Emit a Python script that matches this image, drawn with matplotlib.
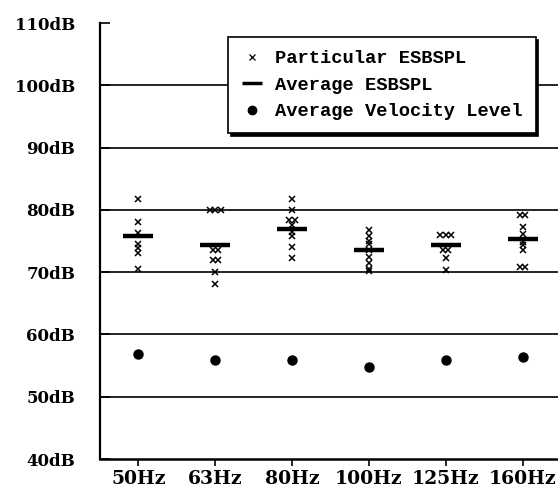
import matplotlib
matplotlib.use("Agg")
import matplotlib.pyplot as plt
from matplotlib.lines import Line2D
import numpy as np

categories = ["50Hz", "63Hz", "80Hz", "100Hz", "125Hz", "160Hz"]
particular = [
    [81.7, 78.0, 76.3, 74.5, 73.8, 73.0, 70.5],
    [80.0, 80.0, 80.0, 73.6, 73.6, 71.9, 71.9, 70.1, 68.1],
    [81.8, 80.0, 78.3, 78.3, 77.6, 76.5, 75.8, 74.0, 72.2],
    [76.8, 75.8, 75.0, 74.5, 73.5, 72.5, 71.5, 70.5, 70.2],
    [76.0, 76.0, 76.0, 73.6, 73.6, 72.3, 70.4],
    [79.1, 79.1, 77.2, 76.1, 74.8, 74.3, 73.5, 70.8, 70.8],
]
average_esbspl = [75.8, 74.4, 77.0, 73.5, 74.4, 75.3]
average_velocity = [56.9, 55.9, 55.9, 54.8, 55.9, 56.3]
yticks = [40, 50, 60, 70, 80, 90, 100, 110]
ytick_labels = ["40dB", "50dB", "60dB", "70dB", "80dB", "90dB", "100dB", "110dB"]

W, H = 558, 490
fig = plt.figure(figsize=(W / 100, H / 100), dpi=100)
ax = fig.add_axes([100 / W, (H - 459) / H, 461 / W, 436 / H])

serif = "DejaVu Serif"

# gridlines
for v in yticks[1:-1]:
    ax.axhline(v, color="black", lw=1.2, zorder=1)

# particular values with side-by-side spread for duplicates
spread = 0.07
for i, vals in enumerate(particular):
    xs, ys = [], []
    uniq = {}
    for v in vals:
        uniq.setdefault(v, 0)
        uniq[v] += 1
    for v, n in uniq.items():
        offs = (np.arange(n) - (n - 1) / 2) * spread
        for o in offs:
            xs.append(i + o)
            ys.append(v)
    ax.plot(xs, ys, ls="none", marker="x", ms=5, mew=1.1, color="black", zorder=3)

x = np.arange(len(categories))
ax.plot(x, average_esbspl, ls="none", marker="_", ms=22, mew=3.2, color="black", zorder=4)
ax.plot(x, average_velocity, ls="none", marker="o", ms=6.5, color="black", zorder=4)

ax.set_xlim(-0.5, len(categories) - 0.5)
ax.set_ylim(40, 110)
ax.set_yticks(yticks)
ax.set_yticklabels(ytick_labels, fontfamily=serif, fontweight="bold", fontsize=12)
ax.set_xticks(x)
ax.set_xticklabels(categories, fontfamily=serif, fontweight="bold", fontsize=13.5)
ax.tick_params(axis="y", direction="in", length=7, width=1.2, pad=18)
ax.tick_params(axis="x", direction="out", length=5, width=1.2, pad=3)

for s in ["top", "right"]:
    ax.spines[s].set_visible(False)
ax.spines["left"].set_linewidth(1.6)
ax.spines["bottom"].set_linewidth(1.8)

handles = [
    Line2D([], [], ls="none", marker="x", ms=4, mew=0.9, color="black"),
    Line2D([], [], ls="none", marker="_", ms=14, mew=2.5, color="black"),
    Line2D([], [], ls="none", marker="o", ms=6, color="black"),
]
labels = ["Particular ESBSPL", "Average ESBSPL", "Average Velocity Level"]
leg = fig.legend(handles, labels, loc="upper left",
                 bbox_to_anchor=(228 / W, 1 - 37 / H), borderaxespad=0,
                 prop={"family": "Liberation Mono", "size": 13.5, "weight": "bold"},
                 frameon=True, fancybox=False, shadow={"color": "black", "alpha": 1},
                 edgecolor="black", framealpha=1, handlelength=1.2,
                 handletextpad=0.6, labelspacing=0.5, borderpad=0.7)
leg.get_frame().set_linewidth(1.2)
leg.set_zorder(10)

fig.savefig("out.png", dpi=100)
